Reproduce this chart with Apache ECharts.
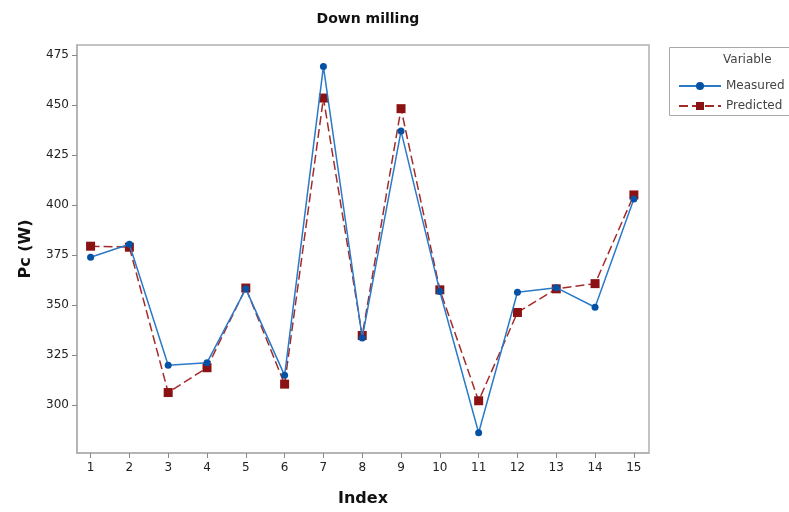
<!DOCTYPE html>
<html>
<head>
<meta charset="utf-8">
<script src="https://cdn.jsdelivr.net/npm/echarts@6/dist/echarts.min.js"></script>
<style>html,body{margin:0;padding:0;background:#fff}#c{width:789px;height:512px}</style>
</head>
<body>
<div id="c"></div>
<script>
const indexValues = [1,2,3,4,5,6,7,8,9,10,11,12,13,14,15];
const measured = [374,380.5,320,321.3,358.2,315,469.2,333.7,437,356.9,286.3,356.5,358.8,349,403.1];
const predicted = [379.5,379,306.4,318.8,358.6,310.6,453.5,334.9,448.2,357.7,302.3,346.4,358.2,360.8,405.1];
const yTicks = [300,325,350,375,400,425,450,475];

const font = 'DejaVu Sans';
const chart = echarts.init(document.getElementById('c'), null, {renderer:'canvas'});
chart.setOption({
  animation:false,
  backgroundColor:'#fff',
  title:{text:'Down milling', left:363, top:7, textAlign:'center',
    textStyle:{fontFamily:font, fontSize:14, fontWeight:'bold', color:'#111'}},
  grid:{left:77, right:140, top:45, bottom:56, show:true, borderColor:'#b0b0b0', borderWidth:1.5, backgroundColor:'transparent'},
  legend:{
    orient:'vertical', left:673, top:75, itemWidth:42, itemHeight:10, itemGap:8,
    textStyle:{fontFamily:font, fontSize:12, color:'#444', padding:[0,0,0,0]},
    data:['Measured','Predicted']
  },
  graphic:[
    {type:'rect', left:667, top:45, shape:{width:140, height:68}, style:{fill:'none', stroke:'#aaa', lineWidth:1}},
    {type:'text', left:723, top:54, style:{text:'Variable', fontFamily:font, fontSize:12, fill:'#444'}}
  ],
  xAxis:{
    type:'value', min:0.65, max:15.39,
    name:'Index', nameLocation:'middle', nameGap:38,
    nameTextStyle:{fontFamily:font, fontSize:16, fontWeight:'bold', color:'#111'},
    axisLine:{show:true, lineStyle:{color:'#b0b0b0', width:1.5}},
    axisTick:{show:true, customValues:indexValues, length:5, lineStyle:{color:'#888'}},
    axisLabel:{customValues:indexValues, fontFamily:font, fontSize:12, color:'#222', margin:9},
    splitLine:{show:false}
  },
  yAxis:{
    type:'value', min:276.2, max:480,
    name:'Pc (W)', nameLocation:'middle', nameGap:43, nameRotate:90,
    nameTextStyle:{fontFamily:font, fontSize:16, fontWeight:'bold', color:'#111'},
    axisLine:{show:true, lineStyle:{color:'#b0b0b0', width:1.5}},
    axisTick:{show:true, customValues:yTicks, length:5, lineStyle:{color:'#888'}},
    axisLabel:{customValues:yTicks, fontFamily:font, fontSize:12, color:'#222', margin:8},
    splitLine:{show:false}
  },
  series:[
    {name:'Predicted', type:'line', data:indexValues.map((x,i)=>[x,predicted[i]]),
      symbol:'rect', symbolSize:9,
      lineStyle:{color:'#a52a2a', width:1.5, type:[9,4]},
      itemStyle:{color:'#8b1212'}, z:2},
    {name:'Measured', type:'line', data:indexValues.map((x,i)=>[x,measured[i]]),
      symbol:'circle', symbolSize:7,
      lineStyle:{color:'#2a7ac8', width:1.5},
      itemStyle:{color:'#0552a5'}, z:3},
  ]
});
</script>
</body>
</html>
